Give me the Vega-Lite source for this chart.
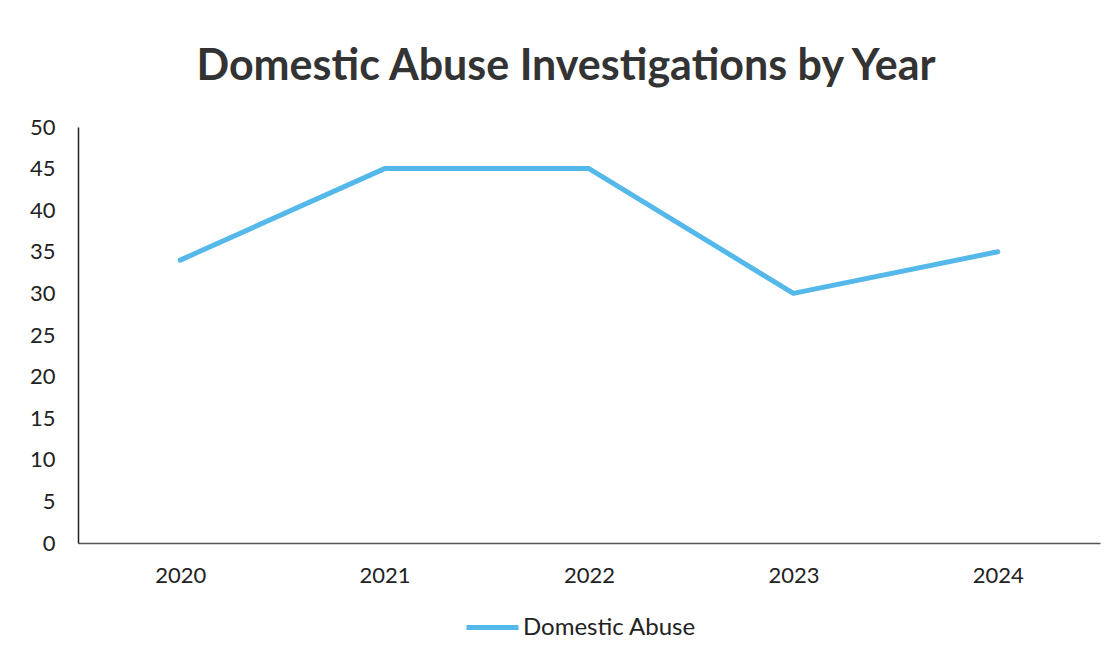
{
  "$schema": "https://vega.github.io/schema/vega-lite/v6.json",
  "width": 1022,
  "height": 416,
  "autosize": {"type": "none"},
  "padding": {"left": 78, "top": 127, "right": 15, "bottom": 120},
  "background": "white",
  "title": {
    "text": "Domestic Abuse Investigations by Year",
    "font": "Lato",
    "fontWeight": "bold",
    "fontSize": 43,
    "color": "#333333",
    "anchor": "middle",
    "dx": -23,
    "offset": 27
  },
  "data": {
    "values": [
      {"year": "2020", "series": "Domestic Abuse", "count": 34},
      {"year": "2021", "series": "Domestic Abuse", "count": 45},
      {"year": "2022", "series": "Domestic Abuse", "count": 45},
      {"year": "2023", "series": "Domestic Abuse", "count": 30},
      {"year": "2024", "series": "Domestic Abuse", "count": 35}
    ]
  },
  "mark": {"type": "line", "strokeWidth": 5, "strokeCap": "round", "strokeJoin": "round"},
  "encoding": {
    "x": {
      "field": "year",
      "type": "ordinal",
      "scale": {"type": "point", "padding": 0.5},
      "axis": {
        "title": null,
        "labelAngle": 0,
        "ticks": false,
        "labelPadding": 22,
        "labelFont": "Lato",
        "labelFontSize": 22,
        "labelColor": "#222222",
        "domainColor": "#555555",
        "domainWidth": 1.5
      }
    },
    "y": {
      "field": "count",
      "type": "quantitative",
      "scale": {"domain": [0, 50]},
      "axis": {
        "title": null,
        "values": [0, 5, 10, 15, 20, 25, 30, 35, 40, 45, 50],
        "grid": false,
        "ticks": false,
        "labelPadding": 23,
        "labelFont": "Lato",
        "labelFontSize": 22,
        "labelColor": "#222222",
        "domainColor": "#222222",
        "domainWidth": 1.5
      }
    },
    "color": {
      "field": "series",
      "type": "nominal",
      "scale": {"range": ["#55b8ea"]},
      "legend": {
        "title": null,
        "orient": "none",
        "legendX": 386,
        "legendY": 472,
        "symbolType": "stroke",
        "symbolSize": 2700,
        "symbolStrokeWidth": 5,
        "labelFont": "Lato",
        "labelFontSize": 24,
        "labelLimit": 400,
        "labelColor": "#222222",
        "labelOffset": 2
      }
    }
  },
  "config": {"view": {"stroke": null}}
}
